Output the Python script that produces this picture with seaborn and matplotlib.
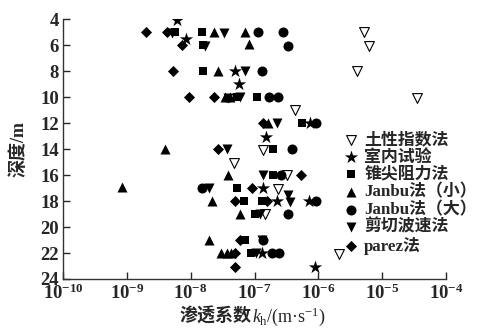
import numpy as np
import pandas as pd
import matplotlib
matplotlib.use("Agg")
import matplotlib.pyplot as plt
import seaborn as sns

# log10 of permeability coefficient k_h (m/s) and depth (m) for each method
soil_index_logk = [-5.29, -5.20, -5.40, -4.45, -6.36, -7.32, -6.86, -6.49, -6.63, -6.83, -5.68]
soil_index_depth = [5.0, 6.1, 8.0, 10.1, 11.0, 15.1, 14.1, 16.0, 17.1, 19.0, 22.1]

lab_logk = [-8.21, -8.07, -7.30, -7.25, -6.13, -6.82, -6.86, -6.65, -6.14, -6.89, -6.05]
lab_depth = [4.1, 5.5, 8.0, 9.0, 12.0, 13.05, 17.0, 18.0, 18.0, 22.0, 23.1]

cone_logk = [-8.24, -7.82, -7.81, -7.81, -7.28, -6.96, -6.26, -6.71, -6.71, -7.27,
             -7.16, -6.88, -7.00, -7.15, -7.05]
cone_depth = [5.0, 5.0, 6.0, 8.0, 10.0, 10.0, 12.0, 14.0, 16.0, 17.0,
              18.0, 18.0, 19.0, 21.0, 22.0]

janbu_s_logk = [-7.63, -7.15, -7.08, -7.58, -7.46, -7.38, -6.79, -8.41, -7.42, -9.07,
                -7.66, -7.22, -7.72, -7.53, -7.43, -7.37]
janbu_s_depth = [5.0, 5.0, 5.9, 8.0, 10.0, 10.0, 12.0, 14.0, 16.0, 16.9,
                 18.0, 19.0, 21.0, 22.0, 22.0, 22.0]

janbu_l_logk = [-6.95, -6.56, -6.48, -6.89, -6.77, -6.63, -6.03, -6.41, -6.59, -7.82,
                -6.03, -6.48, -6.86, -6.73, -6.62]
janbu_l_depth = [5.0, 5.0, 6.05, 8.0, 10.0, 10.0, 12.0, 14.0, 16.0, 17.0,
                 18.0, 19.0, 21.0, 22.0, 22.0]

shear_logk = [-8.30, -7.48, -7.78, -7.15, -7.42, -7.23, -6.65, -7.43, -6.86, -7.72,
              -6.47, -6.45, -6.91, -6.88, -6.98]
shear_depth = [5.1, 5.05, 6.05, 8.0, 10.05, 10.0, 12.0, 14.0, 16.0, 17.0,
               17.55, 18.1, 19.0, 21.0, 22.0]

parez_logk = [-8.70, -8.37, -8.14, -8.27, -8.03, -7.64, -6.86, -7.57, -6.27, -7.04,
              -7.31, -6.80, -7.23, -7.30, -7.30]
parez_depth = [5.0, 5.0, 6.0, 8.0, 10.0, 10.0, 12.0, 14.0, 16.0, 17.0,
               18.0, 18.0, 21.0, 22.0, 23.1]

method_names = ["土性指数法", "室内试验", "锥尖阻力法", "Janbu法（小）",
                "Janbu法（大）", "剪切波速法", "parez法"]
series = [
    (soil_index_logk, soil_index_depth),
    (lab_logk, lab_depth),
    (cone_logk, cone_depth),
    (janbu_s_logk, janbu_s_depth),
    (janbu_l_logk, janbu_l_depth),
    (shear_logk, shear_depth),
    (parez_logk, parez_depth),
]

x_ticks = [1e-10, 1e-9, 1e-8, 1e-7, 1e-6, 1e-5, 1e-4]
y_ticks = [4, 6, 8, 10, 12, 14, 16, 18, 20, 22, 24]

frames = []
for name, (lk, d) in zip(method_names, series):
    frames.append(pd.DataFrame({"method": name, "k": np.power(10.0, lk), "depth": d}))
df = pd.concat(frames, ignore_index=True)

sns.set_theme(style="ticks")
plt.rcParams["font.family"] = ["Liberation Serif", "Noto Sans CJK SC"]
plt.rcParams["mathtext.fontset"] = "custom"
plt.rcParams["mathtext.rm"] = "Liberation Serif"
plt.rcParams["mathtext.it"] = "Liberation Serif:italic"
plt.rcParams["mathtext.bf"] = "Liberation Serif:bold"
plt.rcParams["axes.unicode_minus"] = True

fig = plt.figure(figsize=(4.78, 3.29), dpi=100)
ax = fig.add_axes([0.132, 0.152, 0.801, 0.790])

styles = {
    "土性指数法": dict(marker="v", s=50, color="white", edgecolor="black", linewidth=0.8),
    "室内试验": dict(marker="*", s=100, color="black", edgecolor="black", linewidth=0),
    "锥尖阻力法": dict(marker="s", s=38, color="black", edgecolor="black", linewidth=0),
    "Janbu法（小）": dict(marker="^", s=52, color="black", edgecolor="black", linewidth=0),
    "Janbu法（大）": dict(marker="o", s=52, color="black", edgecolor="black", linewidth=0),
    "剪切波速法": dict(marker="v", s=52, color="black", edgecolor="black", linewidth=0),
    "parez法": dict(marker="D", s=32, color="black", edgecolor="black", linewidth=0),
}

for name in method_names:
    sub = df[df["method"] == name]
    sns.scatterplot(data=sub, x="k", y="depth", ax=ax, label=name, **styles[name])

ax.set_xscale("log")
ax.set_xlim(1e-10, 1e-4)
ax.set_ylim(24, 4)
ax.set_xticks(x_ticks)
ax.set_yticks(y_ticks)
ax.xaxis.set_minor_locator(matplotlib.ticker.NullLocator())
ax.set_xticklabels([r"$\mathbf{10^{%d}}$" % int(np.log10(v)) for v in x_ticks])
ax.set_yticklabels([str(v) for v in y_ticks])
ax.tick_params(axis="both", direction="in", length=5, width=1.0, labelsize=13.5, pad=3)
for lbl in ax.get_yticklabels():
    lbl.set_fontweight("bold")
sns.despine(ax=ax)
for sp in ("left", "bottom"):
    ax.spines[sp].set_linewidth(1.0)
    ax.spines[sp].set_color("#333333")

ax.set_xlabel("")
ax.set_ylabel("深度/m", fontsize=13, fontweight="bold", labelpad=9)

# x-axis title: Chinese part and the unit part drawn side by side
fig.text(0.527, 0.038, "渗透系数", fontsize=13, fontweight="bold",
         family=["Noto Sans CJK SC"], ha="right", va="center")
fig.text(0.527, 0.038, r"$\mathit{k}_\mathregular{h}$/(m·s$^{\mathregular{-1}}$)",
         fontsize=13, ha="left", va="center")

leg = ax.legend(loc="upper left", bbox_to_anchor=(0.738, 0.565), frameon=False,
                prop={"size": 12.2, "weight": "bold"},
                handlelength=0.6, handletextpad=0.5,
                labelspacing=0.08, borderaxespad=0, borderpad=0)

fig.savefig("out.png", dpi=100)
